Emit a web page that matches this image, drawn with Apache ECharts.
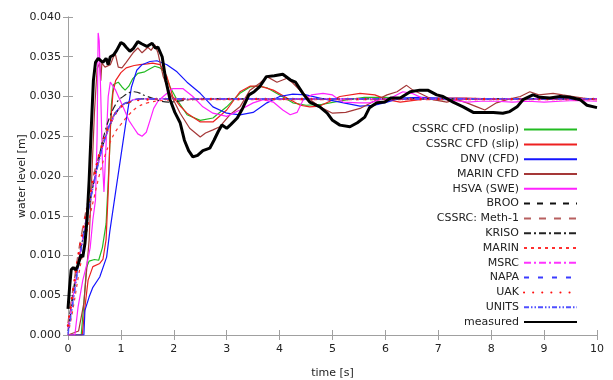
<!DOCTYPE html>
<html>
<head>
<meta charset="utf-8">
<script src="https://cdn.jsdelivr.net/npm/echarts@6/dist/echarts.min.js"></script>
<style>
  html, body { margin: 0; padding: 0; background: #fff; }
  #chart { width: 613px; height: 380px; }
</style>
</head>
<body>
<div id="chart"></div>
<script>
// time [s] / water level [m] pairs
var xTicks = [0, 1, 2, 3, 4, 5, 6, 7, 8, 9, 10];
var yTicks = [0.000, 0.005, 0.010, 0.015, 0.020, 0.025, 0.030, 0.035, 0.040];

var cssrcNoslip = [[0,0],[0.25,0],[0.3,0.004],[0.35,0.0085],[0.4,0.0093],[0.5,0.0095],[0.58,0.0094],[0.65,0.011],[0.72,0.014],
  [0.78,0.022],[0.82,0.029],[0.86,0.0315],[0.95,0.0318],[1.02,0.0312],[1.08,0.0308],[1.15,0.0313],[1.22,0.0322],[1.32,0.0329],
  [1.45,0.0331],[1.55,0.0335],[1.64,0.0338],[1.74,0.0336],[1.83,0.033],[1.93,0.0312],[2.06,0.0296],[2.25,0.0277],[2.5,0.027],
  [2.74,0.0273],[3.0,0.0287],[3.25,0.0304],[3.44,0.0312],[3.6,0.0313],[3.76,0.0311],[4.0,0.0302],[4.25,0.0292],[4.5,0.0289],
  [4.8,0.029],[5.2,0.0295],[5.6,0.0299],[6.0,0.0299],[6.5,0.0297],[7,0.0296],[8,0.0297],[9,0.0297],[10,0.0297]];
var cssrcSlip = [[0,0],[0.27,0],[0.32,0.0035],[0.38,0.0069],[0.47,0.0086],[0.6,0.009],[0.66,0.0095],[0.72,0.012],[0.76,0.018],
  [0.8,0.026],[0.85,0.0305],[0.9,0.032],[1.0,0.033],[1.1,0.0336],[1.25,0.0339],[1.36,0.034],[1.5,0.0341],[1.6,0.0342],[1.74,0.034],
  [1.87,0.0325],[1.98,0.03],[2.12,0.0288],[2.25,0.0279],[2.5,0.0268],[2.74,0.0268],[3.0,0.0283],[3.25,0.0306],[3.44,0.0313],
  [3.63,0.0313],[3.88,0.0308],[4.14,0.0298],[4.39,0.0289],[4.57,0.0287],[4.76,0.0288],[5.14,0.03],[5.52,0.0304],[5.8,0.0302],
  [6.03,0.0296],[6.28,0.0293],[6.65,0.0296],[7.0,0.0298],[7.5,0.0298],[8,0.0297],[9,0.0297],[10,0.0297]];
var dnvCfd = [[0,0],[0.3,0],[0.32,0.0031],[0.4,0.0048],[0.47,0.006],[0.6,0.0073],[0.73,0.0098],[0.79,0.013],[0.9,0.018],
  [1.0,0.0225],[1.1,0.027],[1.2,0.0312],[1.3,0.0333],[1.4,0.034],[1.55,0.0344],[1.68,0.0345],[1.87,0.034],[2.06,0.0331],
  [2.25,0.0318],[2.5,0.0304],[2.74,0.0287],[3.0,0.0279],[3.25,0.0277],[3.5,0.028],[3.76,0.0292],[4.0,0.03],[4.25,0.0303],
  [4.5,0.0302],[4.76,0.0298],[5.14,0.0293],[5.52,0.0288],[5.8,0.0289],[6.03,0.0293],[6.28,0.0298],[6.65,0.0299],[7.0,0.0298],
  [8,0.0297],[10,0.0297]];
var marinCfd = [[0,0],[0.2,0.0005],[0.3,0.004],[0.4,0.012],[0.45,0.02],[0.5,0.028],[0.55,0.0335],[0.6,0.0342],[0.62,0.032],
  [0.64,0.0342],[0.7,0.0337],[0.8,0.034],[0.89,0.0355],[0.95,0.0337],[1.02,0.0336],[1.1,0.0343],[1.23,0.0355],[1.32,0.0361],
  [1.4,0.0355],[1.51,0.0362],[1.57,0.0358],[1.64,0.0365],[1.7,0.0355],[1.8,0.0325],[1.93,0.0304],[2.12,0.0279],[2.3,0.026],
  [2.5,0.0249],[2.6,0.0254],[2.74,0.0258],[2.87,0.0262],[3.06,0.0277],[3.25,0.0287],[3.44,0.0308],[3.63,0.0317],[3.76,0.0325],
  [3.95,0.0318],[4.14,0.0323],[4.25,0.0317],[4.44,0.0304],[4.6,0.0295],[4.76,0.0287],[5.0,0.0279],[5.25,0.028],[5.52,0.0285],
  [5.84,0.0296],[6.03,0.0302],[6.22,0.0306],[6.4,0.0314],[6.52,0.0308],[6.65,0.0304],[6.9,0.0296],[7.16,0.0293],[7.35,0.0296],
  [7.54,0.0292],[7.73,0.0287],[7.88,0.0283],[8.1,0.0292],[8.3,0.0296],[8.55,0.03],[8.73,0.0306],[8.9,0.0302],[9.17,0.0304],
  [9.35,0.0302],[9.55,0.03],[9.74,0.0298],[10,0.0296]];
var hsvaSwe = [[0,0],[0.13,0],[0.19,0.0035],[0.28,0.0069],[0.36,0.009],[0.42,0.011],[0.47,0.0145],[0.52,0.017],[0.55,0.025],
  [0.57,0.038],[0.59,0.037],[0.62,0.03],[0.65,0.022],[0.68,0.018],[0.72,0.024],[0.76,0.03],[0.8,0.0318],[0.9,0.0308],[1.04,0.0287],
  [1.15,0.027],[1.23,0.0262],[1.32,0.0253],[1.4,0.025],[1.48,0.0255],[1.55,0.027],[1.62,0.0285],[1.7,0.0294],[1.8,0.03],
  [1.98,0.031],[2.17,0.031],[2.36,0.03],[2.55,0.0287],[2.74,0.0279],[3.0,0.0275],[3.25,0.0283],[3.5,0.0292],[3.69,0.0296],
  [3.88,0.0293],[4.06,0.0283],[4.2,0.0277],[4.33,0.028],[4.44,0.0295],[4.6,0.0302],[4.82,0.0304],[5.0,0.0302],[5.1,0.0297],
  [5.2,0.0293],[5.5,0.0292],[5.7,0.0292],[5.9,0.0296],[6.1,0.0298],[6.33,0.0306],[6.5,0.0304],[6.7,0.0298],[7.0,0.0297],
  [7.3,0.0295],[7.55,0.0293],[7.8,0.0294],[8.1,0.0294],[8.4,0.0293],[8.7,0.0294],[9.0,0.0293],[9.3,0.0294],[9.6,0.0295],[10,0.0294]];
var broo = [[0,0.001],[0.1,0.0055],[0.2,0.0095],[0.3,0.013],[0.4,0.0165],[0.5,0.0197],[0.6,0.0225],[0.7,0.0247],[0.8,0.0265],
  [0.9,0.0278],[1.0,0.0287],[1.2,0.0294],[1.4,0.0297],[2,0.0297],[10,0.0297]];
var cssrcMeth1 = [[0,0.0015],[0.1,0.006],[0.2,0.0105],[0.3,0.0142],[0.4,0.0175],[0.5,0.0205],[0.6,0.023],[0.7,0.0252],[0.8,0.0268],
  [0.9,0.028],[1.0,0.0288],[1.2,0.0295],[1.4,0.0297],[2,0.0297],[10,0.0297]];
var kriso = [[0,0.0005],[0.1,0.005],[0.2,0.0092],[0.3,0.0128],[0.4,0.0163],[0.5,0.0196],[0.6,0.0228],[0.7,0.0256],[0.8,0.0276],
  [0.9,0.029],[1.0,0.0298],[1.25,0.0306],[1.5,0.03],[1.9,0.0293],[2.3,0.0296],[2.8,0.0297],[10,0.0297]];
var marin = [[0,0],[0.1,0.0035],[0.2,0.0075],[0.3,0.011],[0.4,0.0145],[0.5,0.0175],[0.6,0.0203],[0.7,0.0226],[0.8,0.0243],
  [0.9,0.0256],[1.0,0.0265],[1.15,0.0277],[1.3,0.0286],[1.5,0.0292],[1.8,0.0295],[2.2,0.0296],[10,0.0296]];
var msrc = [[0,0.0008],[0.1,0.005],[0.2,0.0092],[0.3,0.013],[0.4,0.0165],[0.5,0.0196],[0.6,0.0223],[0.7,0.0246],[0.8,0.0265],
  [0.9,0.0278],[1.0,0.0287],[1.2,0.0295],[1.4,0.0297],[2,0.0297],[10,0.0297]];
var napa = [[0,0.0002],[0.1,0.0045],[0.2,0.0089],[0.3,0.0128],[0.4,0.0163],[0.5,0.0195],[0.6,0.0224],[0.7,0.0248],[0.8,0.0267],
  [0.9,0.028],[1.0,0.0288],[1.2,0.0295],[1.4,0.0297],[2,0.0297],[10,0.0297]];
var uak = [[0,0.0012],[0.1,0.0058],[0.2,0.0102],[0.3,0.0138],[0.4,0.0172],[0.5,0.0202],[0.6,0.0229],[0.7,0.025],[0.8,0.0267],
  [0.9,0.0279],[1.0,0.0287],[1.2,0.0294],[1.4,0.0296],[2,0.0297],[10,0.0297]];
var units = [[0,0],[0.1,0.0042],[0.2,0.0087],[0.3,0.0126],[0.4,0.0161],[0.5,0.0193],[0.6,0.0222],[0.7,0.0246],[0.8,0.0266],
  [0.9,0.0279],[1.0,0.0288],[1.2,0.0295],[1.4,0.0297],[2,0.0297],[10,0.0297]];
var measured = [[0,0.0033],[0.03,0.006],[0.06,0.0082],[0.1,0.0085],[0.14,0.0082],[0.18,0.0086],[0.22,0.0095],[0.25,0.0101],
  [0.28,0.0098],[0.32,0.0115],[0.36,0.0145],[0.4,0.0195],[0.44,0.026],[0.48,0.032],[0.52,0.0343],[0.57,0.0348],[0.62,0.0345],
  [0.66,0.0343],[0.72,0.0348],[0.76,0.034],[0.8,0.035],[0.86,0.0352],[0.92,0.0358],[1.0,0.0368],[1.05,0.0366],[1.1,0.0362],
  [1.17,0.0357],[1.23,0.036],[1.32,0.0369],[1.4,0.0366],[1.49,0.0363],[1.59,0.0367],[1.65,0.0361],[1.7,0.0362],[1.78,0.035],
  [1.85,0.032],[1.93,0.0296],[2.02,0.028],[2.12,0.0267],[2.2,0.0245],[2.28,0.0232],[2.36,0.0224],[2.45,0.0226],[2.55,0.0232],
  [2.68,0.0235],[2.76,0.0245],[2.84,0.0256],[2.91,0.0264],[3.0,0.026],[3.08,0.0265],[3.2,0.0273],[3.3,0.0285],[3.42,0.0302],
  [3.52,0.0306],[3.62,0.0312],[3.75,0.0325],[3.9,0.0326],[4.06,0.0328],[4.2,0.0321],[4.3,0.0318],[4.44,0.0304],[4.57,0.0293],
  [4.76,0.0287],[4.9,0.0279],[5.0,0.027],[5.14,0.0264],[5.33,0.0262],[5.47,0.0267],[5.61,0.0274],[5.7,0.0286],[5.84,0.0292],
  [5.99,0.0293],[6.1,0.0298],[6.28,0.0298],[6.47,0.0306],[6.65,0.0308],[6.8,0.0308],[6.97,0.0302],[7.09,0.03],[7.28,0.0293],
  [7.47,0.0287],[7.66,0.028],[7.85,0.028],[8.04,0.028],[8.22,0.0279],[8.35,0.0281],[8.49,0.0287],[8.6,0.0296],[8.79,0.0302],
  [8.92,0.0299],[9.11,0.0298],[9.3,0.03],[9.49,0.0299],[9.68,0.0296],[9.81,0.0289],[10,0.0286]];

var chart = echarts.init(document.getElementById('chart'), null, {renderer: 'canvas'});

var font = 'DejaVu Sans';
var frameColor = '#a0a0a0';

function line(name, data, color, width, type, smooth, cap) {
  return {
    name: name,
    type: 'line',
    data: data,
    symbol: 'none',
    smooth: smooth || false,
    animation: false,
    lineStyle: { color: color, width: width, type: type || 'solid', cap: cap || 'butt' },
    itemStyle: { color: color }
  };
}

var series = [
  line('CSSRC CFD (noslip)', cssrcNoslip, '#22bb22', 1.2),
  line('CSSRC CFD (slip)', cssrcSlip, '#ee2020', 1.2),
  line('DNV (CFD)', dnvCfd, '#1515ff', 1.2),
  line('MARIN CFD', marinCfd, '#a53838', 1.2),
  line('HSVA (SWE)', hsvaSwe, '#ff22ff', 1.2),
  line('BROO', broo, '#111111', 1.3, [6, 7], 0.4),
  line('CSSRC: Meth-1', cssrcMeth1, '#b86060', 1.5, [7, 8], 0.4),
  line('KRISO', kriso, '#222222', 1.2, [7, 3, 2, 3], 0.4),
  line('MARIN', marin, '#ff3030', 1.2, [3, 4], 0.4),
  line('MSRC', msrc, '#ff33ff', 1.2, [7, 3, 2, 3], 0.4),
  line('NAPA', napa, '#3b3bff', 1.2, [5, 9], 0.4),
  line('UAK', uak, '#ff1010', 2.5, [0.1, 9], 0.4, 'round'),
  line('UNITS', units, '#4f4fff', 1.2, [5, 2, 1.5, 2, 1.5, 2], 0.4),
  line('measured', measured, '#000000', 3)
];

var option = {
  backgroundColor: '#ffffff',
  animation: false,
  textStyle: { fontFamily: font },
  grid: { left: 68, right: 16, top: 17, bottom: 45, containLabel: false, outerBoundsMode: 'none' },
  legend: {
    orient: 'vertical',
    right: 30,
    top: 119,
    align: 'right',
    itemWidth: 53,
    itemHeight: 14,
    itemGap: 3.6,
    itemStyle: { opacity: 0 },
    textStyle: { fontFamily: font, fontSize: 11, color: '#222' },
    data: series.map(function (s) { return s.name; })
  },
  xAxis: [{
    type: 'value',
    min: 0,
    max: 10,
    interval: 1,
    name: 'time [s]',
    nameLocation: 'middle',
    nameGap: 33,
    nameMoveOverlap: false,
    nameTextStyle: { fontFamily: font, fontSize: 11, color: '#222' },
    axisLine: { show: true, lineStyle: { color: frameColor, width: 1 } },
    axisTick: { show: true, inside: true, length: 5, lineStyle: { color: frameColor } },
    axisLabel: { fontFamily: font, fontSize: 11, color: '#222', margin: 9 },
    splitLine: { show: false }
  }, {
    type: 'value',
    position: 'top',
    min: 0,
    max: 10,
    interval: 1,
    axisLine: { show: true, lineStyle: { color: frameColor, width: 1 } },
    axisTick: { show: true, inside: true, length: 5, lineStyle: { color: frameColor } },
    axisLabel: { show: false },
    splitLine: { show: false }
  }],
  yAxis: [{
    type: 'value',
    min: 0,
    max: 0.04,
    interval: 0.005,
    name: 'water level [m]',
    nameLocation: 'middle',
    nameGap: 40,
    nameMoveOverlap: false,
    nameTextStyle: { fontFamily: font, fontSize: 11, color: '#222' },
    axisLine: { show: true, lineStyle: { color: frameColor, width: 1 } },
    axisTick: { show: true, inside: true, length: 5, lineStyle: { color: frameColor } },
    axisLabel: {
      fontFamily: font, fontSize: 11, color: '#222', margin: 7,
      formatter: function (v) { return v.toFixed(3); }
    },
    splitLine: { show: false }
  }, {
    type: 'value',
    position: 'right',
    min: 0,
    max: 0.04,
    interval: 0.005,
    axisLine: { show: true, lineStyle: { color: frameColor, width: 1 } },
    axisTick: { show: true, inside: true, length: 5, lineStyle: { color: frameColor } },
    axisLabel: { show: false },
    splitLine: { show: false }
  }],
  series: series
};

if (option && typeof option === 'object') {
  chart.setOption(option, true);
}
</script>
</body>
</html>
